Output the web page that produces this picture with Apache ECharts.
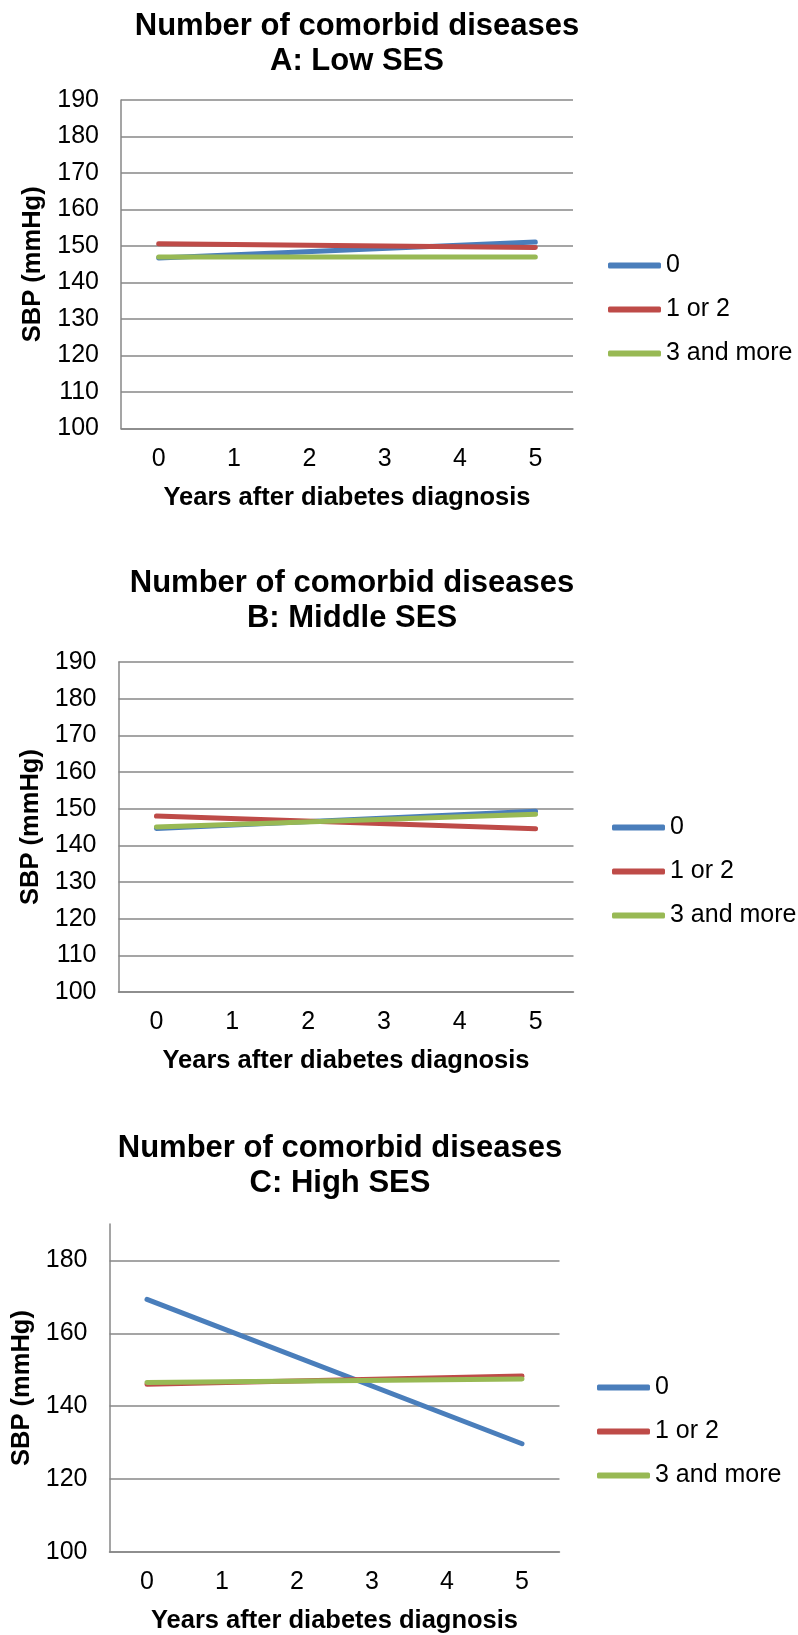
<!DOCTYPE html>
<html>
<head>
<meta charset="utf-8">
<script src="https://cdn.jsdelivr.net/npm/echarts@6/dist/echarts.min.js"></script>
<style>
html,body{margin:0;padding:0;background:#fff;}
#c{width:798px;height:1635px;}
</style>
</head>
<body>
<div id="c"></div>
<script>
// ---- data ----
const years = ['0', '1', '2', '3', '4', '5'];
const seriesNames = ['0', '1 or 2', '3 and more'];
const panelTitles = ['Number of comorbid diseases\nA: Low SES',
                     'Number of comorbid diseases\nB: Middle SES',
                     'Number of comorbid diseases\nC: High SES'];
const yTicksAB = [100, 110, 120, 130, 140, 150, 160, 170, 180, 190];
const yTicksC = [100, 120, 140, 160, 180];

// estimates only at year 0 and year 5 (straight lines between)
const lowSES_0      = [146.7, null, null, null, null, 151.1];
const lowSES_1or2   = [150.6, null, null, null, null, 149.6];
const lowSES_3plus  = [147.0, null, null, null, null, 147.0];
const midSES_0      = [144.6, null, null, null, null, 149.3];
const midSES_1or2   = [148.0, null, null, null, null, 144.5];
const midSES_3plus  = [145.0, null, null, null, null, 148.5];
const highSES_0     = [169.3, null, null, null, null, 129.7];
const highSES_1or2  = [146.0, null, null, null, null, 148.3];
const highSES_3plus = [146.5, null, null, null, null, 147.5];

const panelData = [
  [lowSES_0, lowSES_1or2, lowSES_3plus],
  [midSES_0, midSES_1or2, midSES_3plus],
  [highSES_0, highSES_1or2, highSES_3plus]
];

// ---- styling / layout ----
const colors = ['#4A7EBB', '#BE4B48', '#98B954'];
const gridColor = '#878787';
const FONT = 'Liberation Sans, Arial, sans-serif';

const layout = [
  {grid: {left: 121, top: 100, width: 452, height: 328.5}, titleX: 357, titleTop: 8.5,
   legend: {left: 608, top: 253}, yMin: 100, yMax: 190, yInt: 10, yNameGap: 70.5},
  {grid: {left: 118.5, top: 662, width: 455, height: 330}, titleX: 352, titleTop: 566,
   legend: {left: 612, top: 815}, yMin: 100, yMax: 190, yInt: 10, yNameGap: 71},
  {grid: {left: 109.5, top: 1224, width: 450, height: 331.5}, titleX: 340, titleTop: 1131,
   legend: {left: 597, top: 1375}, yMin: 100, yMax: 190, yInt: 20, yNameGap: 72}
];

const option = {
  animation: false,
  backgroundColor: '#ffffff',
  textStyle: {fontFamily: FONT},
  title: [], legend: [], grid: [], xAxis: [], yAxis: [], series: []
};

layout.forEach((p, i) => {
  option.title.push({
    text: panelTitles[i], left: p.titleX, top: p.titleTop, textAlign: 'center', padding: 0,
    textStyle: {fontFamily: FONT, fontWeight: 'bold', fontSize: 31, lineHeight: 35, color: '#000'}
  });
  option.legend.push({
    data: seriesNames, orient: 'vertical', left: p.legend.left, top: p.legend.top,
    padding: 0, itemGap: 19, itemWidth: 53, itemHeight: 6, icon: 'roundRect',
    selectedMode: false,
    textStyle: {fontFamily: FONT, fontSize: 25, color: '#000', padding: [0, 0, 0, 0]}
  });
  option.grid.push(Object.assign({containLabel: false}, p.grid));
  option.xAxis.push({
    type: 'category', gridIndex: i, data: years, boundaryGap: true,
    name: 'Years after diabetes diagnosis', nameLocation: 'middle', nameGap: 56,
    nameTextStyle: {fontFamily: FONT, fontWeight: 'bold', fontSize: 25.5, color: '#000'},
    axisLine: {show: true, lineStyle: {color: gridColor, width: 1.5}},
    axisTick: {show: false},
    axisLabel: {margin: 18, fontFamily: FONT, fontSize: 25, color: '#000'},
    splitLine: {show: false}
  });
  const nLines = Math.floor((p.yMax - p.yMin) / p.yInt) + 1 + ((p.yMax - p.yMin) % p.yInt ? 1 : 0);
  const lineColors = [];
  for (let k = 0; k < nLines; k++) lineColors.push(gridColor);
  if ((p.yMax - p.yMin) % p.yInt) lineColors[nLines - 1] = 'rgba(0,0,0,0)';
  option.yAxis.push({
    type: 'value', gridIndex: i, min: p.yMin, max: p.yMax, interval: p.yInt,
    name: 'SBP (mmHg)', nameLocation: 'middle', nameGap: p.yNameGap, nameRotate: 90,
    nameTextStyle: {fontFamily: FONT, fontWeight: 'bold', fontSize: 25.5, color: '#000'},
    axisLine: {show: true, lineStyle: {color: gridColor, width: 1.5}},
    axisTick: {show: false},
    axisLabel: {
      margin: 22, fontFamily: FONT, fontSize: 25, color: '#000',
      showMaxLabel: (p.yMax - p.yMin) % p.yInt === 0,
      formatter: v => ((i < 2 ? yTicksAB : yTicksC).indexOf(v) >= 0 ? String(v) : '')
    },
    splitLine: {show: true, lineStyle: {color: lineColors, width: 1.5}}
  });
  panelData[i].forEach((vals, s) => {
    option.series.push({
      type: 'line', name: seriesNames[s], xAxisIndex: i, yAxisIndex: i,
      data: vals, connectNulls: true, symbol: 'none', showSymbol: false,
      color: colors[s],
      lineStyle: {color: colors[s], width: 5, cap: 'round'},
      emphasis: {disabled: true}, z: 2 + s
    });
  });
});

const chart = echarts.init(document.getElementById('c'), null, {renderer: 'canvas'});
chart.setOption(option);
</script>
</body>
</html>
